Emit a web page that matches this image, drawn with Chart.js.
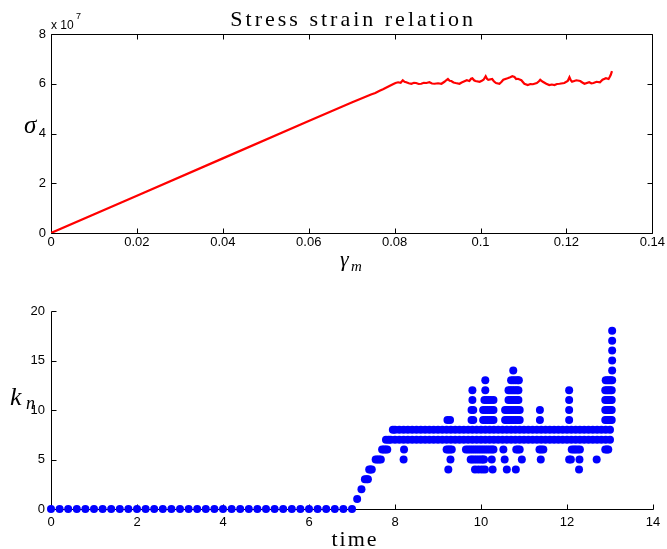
<!DOCTYPE html>
<html><head><meta charset="utf-8">
<script src="https://cdn.jsdelivr.net/npm/chart.js@4.4.0/dist/chart.umd.min.js"></script>
<style>
html,body{margin:0;padding:0;background:#fff;}
#wrap{position:relative;width:667px;height:549px;}
canvas{position:absolute;left:0;top:0;}
</style></head><body>
<div id="wrap"><canvas id="c1" width="667" height="549"></canvas><canvas id="c2" width="667" height="549"></canvas></div>
<script>
// ---------- Top panel: stress vs strain ----------
const titleText = 'Stress strain relation';
const strain = [0, 0.02, 0.04, 0.06, 0.07, 0.0745, 0.0755, 0.0765, 0.0773, 0.0781, 0.0789, 0.0796, 0.0802, 0.0808, 0.0814, 0.0819, 0.0823, 0.0827, 0.0833, 0.0839, 0.0845, 0.0850, 0.0856, 0.0862, 0.0868, 0.0874, 0.0881, 0.0887, 0.0893, 0.0901, 0.0909, 0.0916, 0.0920, 0.0924, 0.0928, 0.0932, 0.0937, 0.0942, 0.0951, 0.0956, 0.0960, 0.0968, 0.0974, 0.0978, 0.0981, 0.0985, 0.0988, 0.0998, 0.1003, 0.1007, 0.1012, 0.1015, 0.1018, 0.1027, 0.1031, 0.1036, 0.1044, 0.1049, 0.1053, 0.1063, 0.1069, 0.1074, 0.1079, 0.1083, 0.1087, 0.1095, 0.1102, 0.1110, 0.1116, 0.1122, 0.1131, 0.1136, 0.1139, 0.1145, 0.1153, 0.1160, 0.1166, 0.1172, 0.1178, 0.1184, 0.1195, 0.1203, 0.1207, 0.1210, 0.1213, 0.1223, 0.1232, 0.1237, 0.1242, 0.1253, 0.1258, 0.1263, 0.1270, 0.1278, 0.1284, 0.1292, 0.1298, 0.1301, 0.1303, 0.1306];
// stress in units of 1e7
const stress = [0, 1.5, 3.0, 4.5, 5.25, 5.57, 5.63, 5.72, 5.78, 5.85, 5.92, 5.98, 6.03, 6.06, 6.04, 6.14, 6.08, 6.06, 6.02, 6.0, 6.04, 6.03, 5.99, 6.0, 6.04, 6.03, 6.06, 6.01, 6.0, 6.02, 6.0, 6.08, 6.14, 6.19, 6.12, 6.11, 6.05, 6.03, 6.0, 6.05, 6.08, 6.14, 6.11, 6.2, 6.22, 6.14, 6.11, 6.08, 6.12, 6.16, 6.3, 6.2, 6.16, 6.19, 6.1, 6.03, 6.0, 6.08, 6.16, 6.22, 6.26, 6.3, 6.27, 6.19, 6.2, 6.14, 6.0, 5.95, 5.99, 5.98, 6.03, 6.1, 6.16, 6.08, 6.0, 5.95, 5.97, 5.95, 5.99, 6.0, 6.03, 6.11, 6.26, 6.14, 6.08, 6.14, 6.11, 6.05, 6.0, 6.06, 6.02, 6.03, 6.08, 6.06, 6.16, 6.22, 6.19, 6.28, 6.35, 6.51];
const stressScale = 1e7;
const xTopTickVals = [0, 0.02, 0.04, 0.06, 0.08, 0.10, 0.12, 0.14];
const xTopTickLabels = ['0', '0.02', '0.04', '0.06', '0.08', '0.1', '0.12', '0.14'];
const yTopTickVals = [0, 2e7, 4e7, 6e7, 8e7];
const yTopTickLabels = ['0', '2', '4', '6', '8'];
const yTopExpBase = 'x 10';
const yTopExp = '7';

// ---------- Bottom panel: k_n vs time ----------
const kn0 = [0, 0.2, 0.4, 0.6, 0.8, 1.0, 1.2, 1.4, 1.6, 1.8, 2.0, 2.2, 2.4, 2.6, 2.8, 3.0, 3.2, 3.4, 3.6, 3.8, 4.0, 4.2, 4.4, 4.6, 4.8, 5.0, 5.2, 5.4, 5.6, 5.8, 6.0, 6.2, 6.4, 6.6, 6.8, 7.0];
const kn1 = [7.12];
const kn2 = [7.22];
const kn3 = [7.30, 7.34, 7.37];
const kn4 = [7.40, 7.43, 7.46, 9.24, 9.86, 9.94, 10.02, 10.09, 10.27, 10.60, 10.81, 12.28];
const kn5 = [7.55, 7.59, 7.63, 7.67, 8.20, 9.29, 9.76, 9.80, 9.85, 9.90, 9.95, 10.00, 10.04, 10.07, 10.25, 10.55, 10.95, 11.39, 12.05, 12.09, 12.29, 12.69];
const kn6 = [7.70, 7.74, 7.78, 7.82, 8.21, 9.20, 9.24, 9.28, 9.32, 9.65, 9.70, 9.75, 9.80, 9.85, 9.90, 9.95, 10.00, 10.05, 10.10, 10.15, 10.20, 10.25, 10.29, 10.52, 10.82, 10.86, 10.90, 11.36, 11.40, 11.45, 12.11, 12.16, 12.20, 12.25, 12.30, 12.89, 12.93, 12.96];
const kn7 = [7.79, 7.85, 7.90, 8.0, 8.1, 8.2, 8.3, 8.4, 8.5, 8.6, 8.7, 8.8, 8.9, 9.0, 9.1, 9.2, 9.3, 9.4, 9.5, 9.6, 9.7, 9.8, 9.9, 10.0, 10.1, 10.2, 10.3, 10.4, 10.5, 10.6, 10.7, 10.8, 10.9, 11.0, 11.1, 11.2, 11.3, 11.4, 11.5, 11.6, 11.7, 11.8, 11.9, 12.0, 12.1, 12.2, 12.3, 12.4, 12.5, 12.6, 12.7, 12.8, 12.9, 13.0];
const kn8 = [7.95, 8.0, 8.1, 8.2, 8.3, 8.4, 8.5, 8.6, 8.7, 8.8, 8.9, 9.0, 9.1, 9.2, 9.3, 9.4, 9.5, 9.6, 9.7, 9.8, 9.9, 10.0, 10.1, 10.2, 10.3, 10.4, 10.5, 10.6, 10.7, 10.8, 10.9, 11.0, 11.1, 11.2, 11.3, 11.4, 11.5, 11.6, 11.7, 11.8, 11.9, 12.0, 12.1, 12.2, 12.3, 12.4, 12.5, 12.6, 12.7, 12.8, 12.9, 13.0];
const kn9 = [9.22, 9.28, 9.78, 9.82, 10.05, 10.10, 10.15, 10.20, 10.25, 10.29, 10.56, 10.60, 10.65, 10.70, 10.75, 10.80, 10.85, 10.90, 11.37, 12.05, 12.89, 12.93, 12.97, 13.01, 13.04];
const kn10 = [9.78, 9.82, 10.05, 10.10, 10.15, 10.20, 10.25, 10.29, 10.56, 10.60, 10.65, 10.70, 10.75, 10.80, 10.85, 10.90, 11.37, 12.05, 12.89, 12.93, 12.97, 13.01, 13.04];
const kn11 = [9.80, 10.08, 10.13, 10.18, 10.23, 10.29, 10.64, 10.68, 10.72, 10.76, 10.80, 10.84, 10.87, 12.05, 12.89, 12.93, 12.97, 13.01, 13.04];
const kn12 = [9.80, 10.10, 10.64, 10.68, 10.72, 10.76, 10.80, 10.84, 10.87, 12.05, 12.89, 12.93, 12.97, 13.01, 13.04];
const kn13 = [10.10, 10.70, 10.75, 10.80, 10.85, 10.88, 12.90, 12.94, 12.98, 13.02, 13.05];
const kn14 = [10.75, 13.05];
const kn15 = [13.05];
const kn16 = [13.05];
const kn17 = [13.05];
const kn18 = [13.05];
const knLevels = [kn0, kn1, kn2, kn3, kn4, kn5, kn6, kn7, kn8, kn9, kn10, kn11, kn12, kn13, kn14, kn15, kn16, kn17, kn18];
const xBotTickVals = [0, 2, 4, 6, 8, 10, 12, 14];
const xBotTickLabels = ['0', '2', '4', '6', '8', '10', '12', '14'];
const yBotTickVals = [0, 5, 10, 15, 20];
const yBotTickLabels = ['0', '5', '10', '15', '20'];

// ---------- helpers ----------
const TICK_FONT = {family: '"Liberation Sans", Arial, Helvetica, sans-serif', size: 13};
const SERIF = '"Liberation Serif", "Times New Roman", serif';

function axesPlugin(opts) {
  return {
    id: 'axesDecor',
    beforeDatasetsDraw(chart) {
      const {ctx, chartArea: a, scales} = chart;
      const L = Math.round(a.left) + 0.5, R = Math.round(a.right) + 0.5;
      const T = Math.round(a.top) + 0.5, B = Math.round(a.bottom) + 0.5;
      ctx.save();
      ctx.strokeStyle = '#000';
      ctx.lineWidth = 1;
      ctx.beginPath();
      ctx.moveTo(L, T); ctx.lineTo(L, B); ctx.lineTo(R, B);
      if (opts.box) { ctx.lineTo(R, T); ctx.lineTo(L, T); }
      ctx.stroke();
      const tl = 5;
      ctx.beginPath();
      scales.x.ticks.forEach(t => {
        const x = Math.round(scales.x.getPixelForValue(t.value)) + 0.5;
        ctx.moveTo(x, B); ctx.lineTo(x, B - tl);
        if (opts.box) { ctx.moveTo(x, T); ctx.lineTo(x, T + tl); }
      });
      scales.y.ticks.forEach(t => {
        const y = Math.round(scales.y.getPixelForValue(t.value)) + 0.5;
        ctx.moveTo(L, y); ctx.lineTo(L + tl, y);
        if (opts.box) { ctx.moveTo(R, y); ctx.lineTo(R - tl, y); }
      });
      ctx.stroke();
      ctx.restore();
    },
    afterDraw(chart) {
      const ctx = chart.ctx;
      ctx.save();
      ctx.fillStyle = '#000';
      ctx.textBaseline = 'alphabetic';
      opts.text(ctx, chart.chartArea);
      ctx.restore();
    }
  };
}

function scaleOpts(vals, labels, pad, isY, min, max) {
  return {
    type: 'linear', min: min, max: max,
    afterBuildTicks: s => { s.ticks = vals.map(v => ({value: v})); },
    afterFit: s => { if (isY) s.width = 51; else s.height = 20; },
    grid: {display: false, drawTicks: false},
    border: {display: false},
    ticks: {
      font: TICK_FONT, color: '#000', padding: pad,
      autoSkip: false, maxRotation: 0, minRotation: 0,
      callback: (v, i) => labels[i]
    }
  };
}

// ---------- top chart ----------
new Chart(document.getElementById('c1'), {
  type: 'scatter',
  data: {
    datasets: [{
      data: strain.map((s, i) => ({x: s, y: stress[i] * stressScale})),
      showLine: true, borderColor: '#ff0000', backgroundColor: '#ff0000',
      borderWidth: 2.2, pointRadius: 0, tension: 0, fill: false
    }]
  },
  options: {
    responsive: false, animation: false, events: [],
    layout: {padding: {top: 34, right: 14, bottom: 549 - 233 - 20, left: 0}},
    plugins: {legend: {display: false}, tooltip: {enabled: false}},
    scales: {
      x: scaleOpts(xTopTickVals, xTopTickLabels, 2, false, 0, 0.14),
      y: scaleOpts(yTopTickVals, yTopTickLabels, 5, true, 0, 8e7)
    }
  },
  plugins: [axesPlugin({
    box: true,
    text(ctx, a) {
      ctx.font = '22px ' + SERIF;
      ctx.letterSpacing = '3px';
      ctx.textAlign = 'center';
      ctx.fillText(titleText, (a.left + a.right) / 2 + 1.5, 26);
      ctx.letterSpacing = '0px';
      ctx.textAlign = 'left';
      ctx.font = '12px "Liberation Sans", Arial, sans-serif';
      ctx.fillText(yTopExpBase, 51, 29);
      ctx.font = '9px "Liberation Sans", Arial, sans-serif';
      ctx.fillText(yTopExp, 76, 19);
      ctx.font = 'italic 25px ' + SERIF;
      ctx.fillText('σ', 24, 133);
      ctx.font = 'italic 22px ' + SERIF;
      ctx.fillText('γ', 340, 266);
      ctx.font = 'italic 15px ' + SERIF;
      ctx.fillText('m', 351, 271);
    }
  })]
});

// ---------- bottom chart ----------
const knPoints = [];
knLevels.forEach((times, k) => times.forEach(t => knPoints.push({x: t, y: k})));

new Chart(document.getElementById('c2'), {
  type: 'scatter',
  data: {
    datasets: [{
      data: knPoints,
      pointRadius: 4, pointBackgroundColor: '#0000ff', pointBorderWidth: 0,
      pointBorderColor: '#0000ff', showLine: false, clip: false
    }]
  },
  options: {
    responsive: false, animation: false, events: [],
    layout: {padding: {top: 311, right: 14, bottom: 549 - 509 - 20, left: 0}},
    plugins: {legend: {display: false}, tooltip: {enabled: false}},
    scales: {
      x: scaleOpts(xBotTickVals, xBotTickLabels, 6, false, 0, 14),
      y: scaleOpts(yBotTickVals, yBotTickLabels, 6, true, 0, 20)
    }
  },
  plugins: [axesPlugin({
    box: false,
    text(ctx, a) {
      ctx.font = '22px ' + SERIF;
      ctx.letterSpacing = '2px';
      ctx.textAlign = 'center';
      ctx.fillText('time', (a.left + a.right) / 2 + 3, 546);
      ctx.letterSpacing = '0px';
      ctx.textAlign = 'left';
      ctx.font = 'italic 26px ' + SERIF;
      ctx.fillText('k', 10, 405);
      ctx.font = 'italic 18px ' + SERIF;
      ctx.fillText('n', 26, 409);
    }
  })]
});
</script>
</body></html>
